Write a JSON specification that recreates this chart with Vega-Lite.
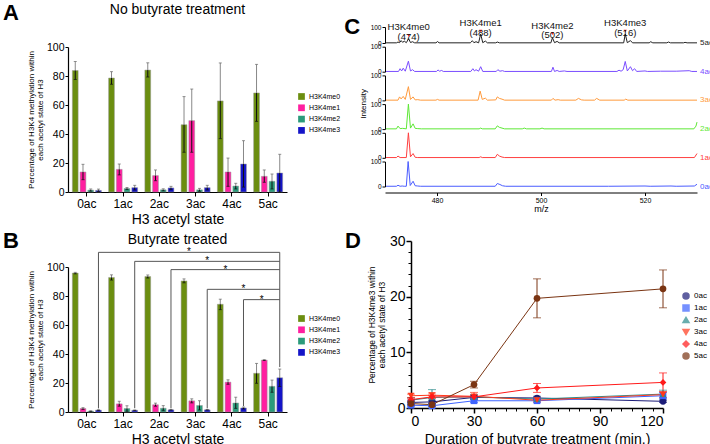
{
  "$schema": "https://vega.github.io/schema/vega-lite/v6.json",
  "background": "white",
  "padding": {"left": 2, "top": 1, "right": 0, "bottom": 0},
  "config": {
    "font": "Liberation Sans",
    "view": {"stroke": null},
    "axis": {"grid": false, "domainColor": "#000", "tickColor": "#000", "labelColor": "#000", "titleColor": "#000", "titleFontWeight": "normal", "labelFont": "Liberation Sans", "titleFont": "Liberation Sans", "labelOverlap": false},
    "legend": {"labelFont": "Liberation Sans", "labelColor": "#000"},
    "title": {"font": "Liberation Sans", "color": "#000"}
  },
  "datasets": {
    "A": [
      {"ac": "0ac", "me": "H3K4me0", "v": 83.8, "lo": 77.6, "hi": 90.0},
      {"ac": "0ac", "me": "H3K4me1", "v": 13.8, "lo": 8.5, "hi": 19.1},
      {"ac": "0ac", "me": "H3K4me2", "v": 1.3, "lo": 0.6, "hi": 2.1},
      {"ac": "0ac", "me": "H3K4me3", "v": 1.1, "lo": 0.3, "hi": 2.0},
      {"ac": "1ac", "me": "H3K4me0", "v": 78.6, "lo": 74.3, "hi": 83.0},
      {"ac": "1ac", "me": "H3K4me1", "v": 15.6, "lo": 11.8, "hi": 19.3},
      {"ac": "1ac", "me": "H3K4me2", "v": 2.4, "lo": 1.8, "hi": 3.1},
      {"ac": "1ac", "me": "H3K4me3", "v": 3.0, "lo": 1.4, "hi": 4.6},
      {"ac": "2ac", "me": "H3K4me0", "v": 84.1, "lo": 79.3, "hi": 89.1},
      {"ac": "2ac", "me": "H3K4me1", "v": 11.3, "lo": 7.8, "hi": 15.2},
      {"ac": "2ac", "me": "H3K4me2", "v": 1.5, "lo": 0.8, "hi": 2.2},
      {"ac": "2ac", "me": "H3K4me3", "v": 2.8, "lo": 1.6, "hi": 3.9},
      {"ac": "3ac", "me": "H3K4me0", "v": 46.4, "lo": 27.4, "hi": 65.8},
      {"ac": "3ac", "me": "H3K4me1", "v": 49.2, "lo": 27.4, "hi": 71.0},
      {"ac": "3ac", "me": "H3K4me2", "v": 1.5, "lo": 0.5, "hi": 2.5},
      {"ac": "3ac", "me": "H3K4me3", "v": 3.0, "lo": 1.4, "hi": 4.6},
      {"ac": "4ac", "me": "H3K4me0", "v": 62.8, "lo": 36.8, "hi": 89.0},
      {"ac": "4ac", "me": "H3K4me1", "v": 13.8, "lo": 3.9, "hi": 23.4},
      {"ac": "4ac", "me": "H3K4me2", "v": 4.1, "lo": 2.1, "hi": 6.0},
      {"ac": "4ac", "me": "H3K4me3", "v": 19.3, "lo": 3.4, "hi": 35.4},
      {"ac": "5ac", "me": "H3K4me0", "v": 68.3, "lo": 48.7, "hi": 88.0},
      {"ac": "5ac", "me": "H3K4me1", "v": 10.8, "lo": 6.7, "hi": 15.2},
      {"ac": "5ac", "me": "H3K4me2", "v": 7.4, "lo": 2.1, "hi": 12.4},
      {"ac": "5ac", "me": "H3K4me3", "v": 13.1, "lo": 0.0, "hi": 26.0}
    ],
    "B": [
      {"ac": "0ac", "me": "H3K4me0", "v": 95.8, "lo": 95.3, "hi": 96.3},
      {"ac": "0ac", "me": "H3K4me1", "v": 2.4, "lo": 1.8, "hi": 3.0},
      {"ac": "0ac", "me": "H3K4me2", "v": 0.6, "lo": 0.4, "hi": 0.8},
      {"ac": "0ac", "me": "H3K4me3", "v": 1.3, "lo": 1.0, "hi": 1.6},
      {"ac": "1ac", "me": "H3K4me0", "v": 92.8, "lo": 91.0, "hi": 94.6},
      {"ac": "1ac", "me": "H3K4me1", "v": 5.6, "lo": 4.0, "hi": 7.4},
      {"ac": "1ac", "me": "H3K4me2", "v": 2.4, "lo": 0.5, "hi": 4.3},
      {"ac": "1ac", "me": "H3K4me3", "v": 1.2, "lo": 1.0, "hi": 1.4},
      {"ac": "2ac", "me": "H3K4me0", "v": 93.4, "lo": 92.4, "hi": 94.5},
      {"ac": "2ac", "me": "H3K4me1", "v": 5.0, "lo": 4.0, "hi": 6.1},
      {"ac": "2ac", "me": "H3K4me2", "v": 2.6, "lo": 0.9, "hi": 4.4},
      {"ac": "2ac", "me": "H3K4me3", "v": 1.5, "lo": 1.3, "hi": 1.7},
      {"ac": "3ac", "me": "H3K4me0", "v": 90.4, "lo": 89.1, "hi": 91.8},
      {"ac": "3ac", "me": "H3K4me1", "v": 7.7, "lo": 6.3, "hi": 9.1},
      {"ac": "3ac", "me": "H3K4me2", "v": 4.5, "lo": 1.4, "hi": 7.8},
      {"ac": "3ac", "me": "H3K4me3", "v": 1.5, "lo": 1.3, "hi": 1.7},
      {"ac": "4ac", "me": "H3K4me0", "v": 74.3, "lo": 70.6, "hi": 77.8},
      {"ac": "4ac", "me": "H3K4me1", "v": 20.6, "lo": 19.1, "hi": 22.2},
      {"ac": "4ac", "me": "H3K4me2", "v": 6.2, "lo": 2.5, "hi": 10.2},
      {"ac": "4ac", "me": "H3K4me3", "v": 2.8, "lo": 2.1, "hi": 3.4},
      {"ac": "5ac", "me": "H3K4me0", "v": 26.7, "lo": 19.8, "hi": 33.5},
      {"ac": "5ac", "me": "H3K4me1", "v": 35.8, "lo": 35.5, "hi": 36.1},
      {"ac": "5ac", "me": "H3K4me2", "v": 17.7, "lo": 13.6, "hi": 22.0},
      {"ac": "5ac", "me": "H3K4me3", "v": 23.6, "lo": 17.6, "hi": 29.6}
    ],
    "Bbr": [
      {"ac": "0ac", "me": "H3K4me3", "yb": 110.1, "y0": 2.5},
      {"ac": "1ac", "me": "H3K4me3", "yb": 103.9, "y0": 2.6},
      {"ac": "2ac", "me": "H3K4me3", "yb": 98.2, "y0": 2.5},
      {"ac": "3ac", "me": "H3K4me3", "yb": 84.6, "y0": 2.5},
      {"ac": "4ac", "me": "H3K4me3", "yb": 77.5, "y0": 4.0},
      {"ac": "5ac", "me": "H3K4me3", "yb": 110.1, "y0": 31.0}
    ],
    "Bst": [
      {"ac": "2ac", "me": "H3K4me3", "y": 110.1, "h": 1},
      {"ac": "3ac", "me": "H3K4me3", "y": 103.9, "h": 0},
      {"ac": "3ac", "me": "H3K4me3", "y": 98.2, "h": 1},
      {"ac": "4ac", "me": "H3K4me3", "y": 84.6, "h": 0},
      {"ac": "4ac", "me": "H3K4me3", "y": 77.5, "h": 1}
    ],
    "D": [
      {"ac": "0ac", "t": 0, "m": 1.0, "lo": 0.6, "hi": 1.4},
      {"ac": "0ac", "t": 10, "m": 1.1, "lo": 0.8, "hi": 1.4},
      {"ac": "0ac", "t": 30, "m": 1.9, "lo": 1.5, "hi": 2.3},
      {"ac": "0ac", "t": 60, "m": 1.8, "lo": 1.5, "hi": 2.1},
      {"ac": "0ac", "t": 120, "m": 1.2, "lo": 1.0, "hi": 1.4},
      {"ac": "1ac", "t": 0, "m": 0.5, "lo": 0.3, "hi": 0.7},
      {"ac": "1ac", "t": 10, "m": 0.4, "lo": 0.2, "hi": 0.6},
      {"ac": "1ac", "t": 30, "m": 1.3, "lo": 1.0, "hi": 1.6},
      {"ac": "1ac", "t": 60, "m": 1.3, "lo": 1.0, "hi": 1.6},
      {"ac": "1ac", "t": 120, "m": 2.2, "lo": 1.6, "hi": 2.8},
      {"ac": "2ac", "t": 0, "m": 1.4, "lo": 1.0, "hi": 1.8},
      {"ac": "2ac", "t": 10, "m": 1.9, "lo": 0.6, "hi": 3.3},
      {"ac": "2ac", "t": 30, "m": 2.0, "lo": 1.6, "hi": 2.4},
      {"ac": "2ac", "t": 60, "m": 1.6, "lo": 1.3, "hi": 1.9},
      {"ac": "2ac", "t": 120, "m": 2.5, "lo": 1.8, "hi": 3.2},
      {"ac": "3ac", "t": 0, "m": 2.2, "lo": 1.9, "hi": 2.5},
      {"ac": "3ac", "t": 10, "m": 2.3, "lo": 1.9, "hi": 2.7},
      {"ac": "3ac", "t": 30, "m": 2.1, "lo": 1.6, "hi": 2.8},
      {"ac": "3ac", "t": 60, "m": 1.4, "lo": 1.1, "hi": 1.7},
      {"ac": "3ac", "t": 120, "m": 2.4, "lo": 1.9, "hi": 2.9},
      {"ac": "4ac", "t": 0, "m": 1.5, "lo": 1.2, "hi": 1.8},
      {"ac": "4ac", "t": 10, "m": 2.0, "lo": 1.7, "hi": 2.3},
      {"ac": "4ac", "t": 30, "m": 2.0, "lo": 1.7, "hi": 2.3},
      {"ac": "4ac", "t": 60, "m": 3.6, "lo": 2.8, "hi": 4.4},
      {"ac": "4ac", "t": 120, "m": 4.6, "lo": 2.9, "hi": 6.3},
      {"ac": "5ac", "t": 0, "m": 0.8, "lo": 0.5, "hi": 1.1},
      {"ac": "5ac", "t": 10, "m": 0.6, "lo": 0.3, "hi": 0.9},
      {"ac": "5ac", "t": 30, "m": 4.2, "lo": 3.6, "hi": 4.8},
      {"ac": "5ac", "t": 60, "m": 19.7, "lo": 16.2, "hi": 23.2},
      {"ac": "5ac", "t": 120, "m": 21.4, "lo": 18.0, "hi": 24.8}
    ],
    "S": [
      {"ac": "5ac", "mz": 470.2, "i": 1}, {"ac": "5ac", "mz": 472.2, "i": 1}, {"ac": "5ac", "mz": 472.5, "i": 6}, {"ac": "5ac", "mz": 472.8, "i": 2}, {"ac": "5ac", "mz": 473.1, "i": 15}, {"ac": "5ac", "mz": 473.4, "i": 4}, {"ac": "5ac", "mz": 473.7, "i": 12}, {"ac": "5ac", "mz": 474.1, "i": 2}, {"ac": "5ac", "mz": 474.55, "i": 27}, {"ac": "5ac", "mz": 474.9, "i": 3}, {"ac": "5ac", "mz": 475.3, "i": 8}, {"ac": "5ac", "mz": 475.7, "i": 1}, {"ac": "5ac", "mz": 479.8, "i": 1}, {"ac": "5ac", "mz": 480.1, "i": 9}, {"ac": "5ac", "mz": 480.4, "i": 1}, {"ac": "5ac", "mz": 486.4, "i": 1}, {"ac": "5ac", "mz": 486.8, "i": 14}, {"ac": "5ac", "mz": 487.1, "i": 2}, {"ac": "5ac", "mz": 487.5, "i": 8}, {"ac": "5ac", "mz": 488.0, "i": 1}, {"ac": "5ac", "mz": 488.4, "i": 56}, {"ac": "5ac", "mz": 488.8, "i": 2}, {"ac": "5ac", "mz": 489.3, "i": 12}, {"ac": "5ac", "mz": 489.7, "i": 1}, {"ac": "5ac", "mz": 491.3, "i": 1}, {"ac": "5ac", "mz": 491.6, "i": 6}, {"ac": "5ac", "mz": 492.0, "i": 1}, {"ac": "5ac", "mz": 501.9, "i": 1}, {"ac": "5ac", "mz": 502.2, "i": 33}, {"ac": "5ac", "mz": 502.6, "i": 2}, {"ac": "5ac", "mz": 503.1, "i": 10}, {"ac": "5ac", "mz": 503.5, "i": 1}, {"ac": "5ac", "mz": 515.9, "i": 1}, {"ac": "5ac", "mz": 516.2, "i": 56}, {"ac": "5ac", "mz": 516.6, "i": 2}, {"ac": "5ac", "mz": 517.2, "i": 15}, {"ac": "5ac", "mz": 517.6, "i": 1}, {"ac": "5ac", "mz": 520.8, "i": 1}, {"ac": "5ac", "mz": 521.1, "i": 8}, {"ac": "5ac", "mz": 521.5, "i": 1}, {"ac": "5ac", "mz": 524.2, "i": 1}, {"ac": "5ac", "mz": 524.5, "i": 6}, {"ac": "5ac", "mz": 524.9, "i": 1}, {"ac": "5ac", "mz": 527.4, "i": 1}, {"ac": "5ac", "mz": 527.7, "i": 4}, {"ac": "5ac", "mz": 528.1, "i": 1}, {"ac": "5ac", "mz": 530, "i": 1},
      {"ac": "4ac", "mz": 470.2, "i": 1}, {"ac": "4ac", "mz": 472.6, "i": 1}, {"ac": "4ac", "mz": 472.9, "i": 12}, {"ac": "4ac", "mz": 473.2, "i": 3}, {"ac": "4ac", "mz": 473.5, "i": 14}, {"ac": "4ac", "mz": 473.9, "i": 2}, {"ac": "4ac", "mz": 474.5, "i": 42}, {"ac": "4ac", "mz": 474.9, "i": 3}, {"ac": "4ac", "mz": 475.3, "i": 8}, {"ac": "4ac", "mz": 475.7, "i": 1}, {"ac": "4ac", "mz": 479.9, "i": 1}, {"ac": "4ac", "mz": 480.2, "i": 7}, {"ac": "4ac", "mz": 480.5, "i": 2}, {"ac": "4ac", "mz": 480.9, "i": 5}, {"ac": "4ac", "mz": 481.2, "i": 1}, {"ac": "4ac", "mz": 486.5, "i": 1}, {"ac": "4ac", "mz": 486.9, "i": 12}, {"ac": "4ac", "mz": 487.2, "i": 3}, {"ac": "4ac", "mz": 487.5, "i": 8}, {"ac": "4ac", "mz": 488.0, "i": 2}, {"ac": "4ac", "mz": 488.4, "i": 20}, {"ac": "4ac", "mz": 488.8, "i": 1}, {"ac": "4ac", "mz": 491.4, "i": 1}, {"ac": "4ac", "mz": 491.7, "i": 8}, {"ac": "4ac", "mz": 492.1, "i": 2}, {"ac": "4ac", "mz": 492.6, "i": 4}, {"ac": "4ac", "mz": 493.0, "i": 1}, {"ac": "4ac", "mz": 502.0, "i": 1}, {"ac": "4ac", "mz": 502.3, "i": 18}, {"ac": "4ac", "mz": 502.6, "i": 1}, {"ac": "4ac", "mz": 503.1, "i": 5}, {"ac": "4ac", "mz": 503.5, "i": 1}, {"ac": "4ac", "mz": 504.5, "i": 3}, {"ac": "4ac", "mz": 505.0, "i": 1}, {"ac": "4ac", "mz": 514.6, "i": 1}, {"ac": "4ac", "mz": 515.0, "i": 6}, {"ac": "4ac", "mz": 515.4, "i": 2}, {"ac": "4ac", "mz": 515.8, "i": 8}, {"ac": "4ac", "mz": 516.2, "i": 41}, {"ac": "4ac", "mz": 516.6, "i": 3}, {"ac": "4ac", "mz": 517.2, "i": 20}, {"ac": "4ac", "mz": 517.6, "i": 4}, {"ac": "4ac", "mz": 518.0, "i": 12}, {"ac": "4ac", "mz": 518.4, "i": 1}, {"ac": "4ac", "mz": 520.0, "i": 3}, {"ac": "4ac", "mz": 520.5, "i": 1}, {"ac": "4ac", "mz": 523.0, "i": 2}, {"ac": "4ac", "mz": 526.0, "i": 2}, {"ac": "4ac", "mz": 528.5, "i": 4}, {"ac": "4ac", "mz": 529.0, "i": 1}, {"ac": "4ac", "mz": 530, "i": 1},
      {"ac": "3ac", "mz": 470.2, "i": 1}, {"ac": "3ac", "mz": 472.5, "i": 1}, {"ac": "3ac", "mz": 472.8, "i": 14}, {"ac": "3ac", "mz": 473.1, "i": 6}, {"ac": "3ac", "mz": 473.5, "i": 16}, {"ac": "3ac", "mz": 473.9, "i": 4}, {"ac": "3ac", "mz": 474.5, "i": 55}, {"ac": "3ac", "mz": 474.9, "i": 4}, {"ac": "3ac", "mz": 475.4, "i": 14}, {"ac": "3ac", "mz": 475.8, "i": 2}, {"ac": "3ac", "mz": 476.3, "i": 3}, {"ac": "3ac", "mz": 476.8, "i": 1}, {"ac": "3ac", "mz": 479.8, "i": 1}, {"ac": "3ac", "mz": 480.1, "i": 4}, {"ac": "3ac", "mz": 480.4, "i": 1}, {"ac": "3ac", "mz": 487.9, "i": 1}, {"ac": "3ac", "mz": 488.3, "i": 37}, {"ac": "3ac", "mz": 488.7, "i": 4}, {"ac": "3ac", "mz": 489.3, "i": 9}, {"ac": "3ac", "mz": 489.7, "i": 1}, {"ac": "3ac", "mz": 491.3, "i": 2}, {"ac": "3ac", "mz": 491.6, "i": 14}, {"ac": "3ac", "mz": 492.0, "i": 8}, {"ac": "3ac", "mz": 492.5, "i": 5}, {"ac": "3ac", "mz": 493.0, "i": 1}, {"ac": "3ac", "mz": 502.0, "i": 1}, {"ac": "3ac", "mz": 502.3, "i": 8}, {"ac": "3ac", "mz": 502.7, "i": 1}, {"ac": "3ac", "mz": 503.3, "i": 3}, {"ac": "3ac", "mz": 503.7, "i": 1}, {"ac": "3ac", "mz": 506.7, "i": 1}, {"ac": "3ac", "mz": 507.2, "i": 8}, {"ac": "3ac", "mz": 507.8, "i": 2}, {"ac": "3ac", "mz": 508.3, "i": 1}, {"ac": "3ac", "mz": 510.3, "i": 1}, {"ac": "3ac", "mz": 510.7, "i": 8}, {"ac": "3ac", "mz": 511.3, "i": 1}, {"ac": "3ac", "mz": 516.0, "i": 1}, {"ac": "3ac", "mz": 516.3, "i": 5}, {"ac": "3ac", "mz": 516.7, "i": 1}, {"ac": "3ac", "mz": 530, "i": 1},
      {"ac": "2ac", "mz": 470.2, "i": 1}, {"ac": "2ac", "mz": 472.2, "i": 1}, {"ac": "2ac", "mz": 472.5, "i": 12}, {"ac": "2ac", "mz": 472.9, "i": 2}, {"ac": "2ac", "mz": 473.4, "i": 3}, {"ac": "2ac", "mz": 474.1, "i": 1}, {"ac": "2ac", "mz": 474.5, "i": 100}, {"ac": "2ac", "mz": 474.9, "i": 4}, {"ac": "2ac", "mz": 475.4, "i": 21}, {"ac": "2ac", "mz": 475.8, "i": 3}, {"ac": "2ac", "mz": 476.3, "i": 2}, {"ac": "2ac", "mz": 477.0, "i": 1}, {"ac": "2ac", "mz": 488.1, "i": 1}, {"ac": "2ac", "mz": 488.4, "i": 4}, {"ac": "2ac", "mz": 488.7, "i": 1}, {"ac": "2ac", "mz": 491.2, "i": 1}, {"ac": "2ac", "mz": 491.6, "i": 13}, {"ac": "2ac", "mz": 492.0, "i": 7}, {"ac": "2ac", "mz": 492.5, "i": 4}, {"ac": "2ac", "mz": 493.0, "i": 1}, {"ac": "2ac", "mz": 496.4, "i": 1}, {"ac": "2ac", "mz": 496.8, "i": 4}, {"ac": "2ac", "mz": 497.2, "i": 1}, {"ac": "2ac", "mz": 499.8, "i": 1}, {"ac": "2ac", "mz": 500.2, "i": 4}, {"ac": "2ac", "mz": 500.6, "i": 1}, {"ac": "2ac", "mz": 529.4, "i": 1}, {"ac": "2ac", "mz": 529.8, "i": 12}, {"ac": "2ac", "mz": 530, "i": 28},
      {"ac": "1ac", "mz": 470.2, "i": 1}, {"ac": "1ac", "mz": 472.2, "i": 1}, {"ac": "1ac", "mz": 472.5, "i": 7}, {"ac": "1ac", "mz": 472.9, "i": 1}, {"ac": "1ac", "mz": 474.1, "i": 1}, {"ac": "1ac", "mz": 474.5, "i": 100}, {"ac": "1ac", "mz": 474.9, "i": 4}, {"ac": "1ac", "mz": 475.4, "i": 17}, {"ac": "1ac", "mz": 475.8, "i": 2}, {"ac": "1ac", "mz": 476.3, "i": 1}, {"ac": "1ac", "mz": 488.1, "i": 1}, {"ac": "1ac", "mz": 488.4, "i": 4}, {"ac": "1ac", "mz": 488.7, "i": 1}, {"ac": "1ac", "mz": 491.2, "i": 1}, {"ac": "1ac", "mz": 491.6, "i": 14}, {"ac": "1ac", "mz": 492.0, "i": 7}, {"ac": "1ac", "mz": 492.5, "i": 3}, {"ac": "1ac", "mz": 493.0, "i": 1}, {"ac": "1ac", "mz": 529.5, "i": 1}, {"ac": "1ac", "mz": 530, "i": 17},
      {"ac": "0ac", "mz": 470.2, "i": 1}, {"ac": "0ac", "mz": 472.2, "i": 1}, {"ac": "0ac", "mz": 472.5, "i": 5}, {"ac": "0ac", "mz": 472.9, "i": 1}, {"ac": "0ac", "mz": 473.3, "i": 2}, {"ac": "0ac", "mz": 473.7, "i": 1}, {"ac": "0ac", "mz": 474.1, "i": 1}, {"ac": "0ac", "mz": 474.45, "i": 100}, {"ac": "0ac", "mz": 474.85, "i": 4}, {"ac": "0ac", "mz": 475.4, "i": 21}, {"ac": "0ac", "mz": 475.8, "i": 3}, {"ac": "0ac", "mz": 476.3, "i": 2}, {"ac": "0ac", "mz": 476.8, "i": 1}, {"ac": "0ac", "mz": 491.2, "i": 1}, {"ac": "0ac", "mz": 491.6, "i": 12}, {"ac": "0ac", "mz": 492.1, "i": 8}, {"ac": "0ac", "mz": 492.6, "i": 3}, {"ac": "0ac", "mz": 493.2, "i": 1}, {"ac": "0ac", "mz": 513.0, "i": 1}, {"ac": "0ac", "mz": 520.0, "i": 2}, {"ac": "0ac", "mz": 521.0, "i": 1}, {"ac": "0ac", "mz": 525.0, "i": 2}, {"ac": "0ac", "mz": 526.0, "i": 1}, {"ac": "0ac", "mz": 529.5, "i": 2}, {"ac": "0ac", "mz": 530, "i": 9}
    ],
    "SL": [
      {"ac": "5ac", "mz": 530, "i": 0}, {"ac": "4ac", "mz": 530, "i": 0}, {"ac": "3ac", "mz": 530, "i": 0},
      {"ac": "2ac", "mz": 530, "i": 0}, {"ac": "1ac", "mz": 530, "i": 0}, {"ac": "0ac", "mz": 530, "i": 0}
    ],
    "ANN": [
      {"mz": 474.55, "i": 48, "t": "H3K4me0\n(474)"},
      {"mz": 488.4, "i": 75, "t": "H3K4me1\n(488)"},
      {"mz": 502.2, "i": 58, "t": "H3K4me2\n(502)"},
      {"mz": 516.2, "i": 75, "t": "H3K4me3\n(516)"}
    ]
  },
  "columns": 2,
  "align": "none",
  "spacing": {"row": 4, "column": 3},
  "resolve": {"scale": {"color": "independent", "shape": "independent"}},
  "concat": [
    {
      "title": {"text": "A", "anchor": "start", "frame": "bounds", "fontSize": 22, "fontWeight": "bold", "offset": -22, "dx": -25},
      "spacing": 11,
      "vconcat": [
        {"width": 219, "height": 1, "title": {"text": "No butyrate treatment", "fontSize": 14, "fontWeight": "normal", "offset": 8}, "data": {"values": [{"k": 0}]}, "mark": {"type": "point", "opacity": 0}, "encoding": {}},
        {
          "width": 219, "height": 145,
          "data": {"name": "A"},
          "resolve": {"axis": {"y": "independent"}},
          "encoding": {
            "x": {"field": "ac", "type": "nominal", "scale": {"paddingInner": 0.2, "paddingOuter": 0.12}, "axis": {"title": "H3 acetyl state", "titleFontSize": 14, "labelFontSize": 12, "labelAngle": 0, "tickSize": 4, "labelPadding": 2, "titlePadding": 3, "domainWidth": 1.2}},
            "xOffset": {"field": "me", "type": "nominal", "scale": {"paddingInner": 0.25}}
          },
          "layer": [
            {"mark": {"type": "bar", "stroke": "#999", "strokeWidth": 0.5},
             "encoding": {
               "y": {"field": "v", "type": "quantitative", "scale": {"domain": [0, 100], "nice": false}, "axis": {"orient": "left", "values": [0, 20, 40, 60, 80, 100], "title": ["Percentage of H3K4 methylation within", "each acetyl state of H3"], "titleFontSize": 8, "titleLineHeight": 8.5, "titlePadding": 2, "labelFontSize": 10.5, "labelOverlap": false, "labelBound": false, "labelFlush": false, "labelSeparation": 0, "tickSize": 3, "labelPadding": 1, "domainWidth": 1.2}},
               "color": {"field": "me", "type": "nominal", "scale": {"domain": ["H3K4me0", "H3K4me1", "H3K4me2", "H3K4me3"], "range": ["#6b8e10", "#ff1fa0", "#2a9b7b", "#1414c8"]}, "legend": {"title": null, "orient": "none", "legendX": 230, "legendY": 66, "symbolType": "square", "symbolSize": 45, "labelFontSize": 7, "rowPadding": 3.3, "symbolStrokeWidth": 0, "padding": 0}}
             }},
            {"mark": {"type": "rule", "color": "#888", "strokeWidth": 1}, "encoding": {"y": {"field": "v", "type": "quantitative", "axis": null}, "y2": {"field": "hi"}}},
            {"mark": {"type": "rule", "color": "#111", "strokeWidth": 1}, "encoding": {"y": {"field": "lo", "type": "quantitative", "axis": null}, "y2": {"field": "v"}}},
            {"mark": {"type": "tick", "orient": "horizontal", "size": 3, "thickness": 1, "color": "#666"}, "encoding": {"y": {"field": "hi", "type": "quantitative", "axis": null}}},
            {"mark": {"type": "tick", "orient": "horizontal", "size": 3, "thickness": 1, "color": "#111"}, "encoding": {"y": {"field": "lo", "type": "quantitative", "axis": null}}}
          ]
        }
      ]
    },
    {
      "title": {"text": "C", "anchor": "start", "frame": "bounds", "fontSize": 22, "fontWeight": "bold", "offset": -21, "dx": -15},
      "spacing": 3.7,
      "bounds": "flush",
      "vconcat": [
        {
          "width": 312, "height": 16,
          "layer": [
            {"data": {"name": "S"}, "transform": [{"filter": "datum.ac == '5ac'"}], "mark": {"type": "line", "color": "#222", "strokeWidth": 1},
             "encoding": {"x": {"field": "mz", "type": "quantitative", "scale": {"domain": [470, 530], "nice": false, "zero": false}, "axis": null},
                          "y": {"field": "i", "type": "quantitative", "scale": {"domain": [0, 100], "nice": false}, "axis": {"values": [0, 100], "title": null, "labelFontSize": 6.5, "tickSize": 3, "labelPadding": 1, "domainWidth": 1}}}},
            {"data": {"name": "SL"}, "transform": [{"filter": "datum.ac == '5ac'"}], "mark": {"type": "text", "align": "left", "baseline": "middle", "dx": 3, "fontSize": 8, "color": "#222"},
             "encoding": {"x": {"field": "mz", "type": "quantitative"}, "y": {"field": "i", "type": "quantitative"}, "text": {"field": "ac"}}},
            {"data": {"name": "ANN"}, "mark": {"type": "point", "shape": "triangle-down", "filled": true, "size": 10, "color": "#ff2020", "opacity": 1},
             "encoding": {"x": {"field": "mz", "type": "quantitative"}, "y": {"field": "i", "type": "quantitative"}}},
            {"data": {"name": "ANN"}, "mark": {"type": "text", "baseline": "bottom", "dy": -3, "fontSize": 9.5, "lineBreak": "\n", "lineHeight": 9.5, "color": "#111"},
             "encoding": {"x": {"field": "mz", "type": "quantitative"}, "y": {"field": "i", "type": "quantitative"}, "text": {"field": "t"}}}
          ]
        },
        {
          "width": 312, "height": 25,
          "layer": [
            {"data": {"name": "S"}, "transform": [{"filter": "datum.ac == '4ac'"}], "mark": {"type": "line", "color": "#7a4dff", "strokeWidth": 1},
             "encoding": {"x": {"field": "mz", "type": "quantitative", "scale": {"domain": [470, 530], "nice": false, "zero": false}, "axis": null},
                          "y": {"field": "i", "type": "quantitative", "scale": {"domain": [0, 100], "nice": false}, "axis": {"values": [0, 100], "title": null, "labelFontSize": 6.5, "tickSize": 3, "labelPadding": 1, "domainWidth": 1}}}},
            {"data": {"name": "SL"}, "transform": [{"filter": "datum.ac == '4ac'"}], "mark": {"type": "text", "align": "left", "baseline": "middle", "dx": 3, "fontSize": 8, "color": "#7a4dff"},
             "encoding": {"x": {"field": "mz", "type": "quantitative"}, "y": {"field": "i", "type": "quantitative"}, "text": {"field": "ac"}}}
          ]
        },
        {
          "width": 312, "height": 25,
          "layer": [
            {"data": {"name": "S"}, "transform": [{"filter": "datum.ac == '3ac'"}], "mark": {"type": "line", "color": "#ff9a3c", "strokeWidth": 1},
             "encoding": {"x": {"field": "mz", "type": "quantitative", "scale": {"domain": [470, 530], "nice": false, "zero": false}, "axis": null},
                          "y": {"field": "i", "type": "quantitative", "scale": {"domain": [0, 100], "nice": false}, "axis": {"values": [0, 100], "title": "Intensity", "titleFontSize": 8, "titleY": 28, "titlePadding": 3, "labelFontSize": 6.5, "tickSize": 3, "labelPadding": 1, "domainWidth": 1}}}},
            {"data": {"name": "SL"}, "transform": [{"filter": "datum.ac == '3ac'"}], "mark": {"type": "text", "align": "left", "baseline": "middle", "dx": 3, "fontSize": 8, "color": "#ff9a3c"},
             "encoding": {"x": {"field": "mz", "type": "quantitative"}, "y": {"field": "i", "type": "quantitative"}, "text": {"field": "ac"}}}
          ]
        },
        {
          "width": 312, "height": 25,
          "layer": [
            {"data": {"name": "S"}, "transform": [{"filter": "datum.ac == '2ac'"}], "mark": {"type": "line", "color": "#5ee836", "strokeWidth": 1},
             "encoding": {"x": {"field": "mz", "type": "quantitative", "scale": {"domain": [470, 530], "nice": false, "zero": false}, "axis": null},
                          "y": {"field": "i", "type": "quantitative", "scale": {"domain": [0, 100], "nice": false}, "axis": {"values": [0, 100], "title": null, "labelFontSize": 6.5, "tickSize": 3, "labelPadding": 1, "domainWidth": 1}}}},
            {"data": {"name": "SL"}, "transform": [{"filter": "datum.ac == '2ac'"}], "mark": {"type": "text", "align": "left", "baseline": "middle", "dx": 3, "fontSize": 8, "color": "#5ee836"},
             "encoding": {"x": {"field": "mz", "type": "quantitative"}, "y": {"field": "i", "type": "quantitative"}, "text": {"field": "ac"}}}
          ]
        },
        {
          "width": 312, "height": 25,
          "layer": [
            {"data": {"name": "S"}, "transform": [{"filter": "datum.ac == '1ac'"}], "mark": {"type": "line", "color": "#ff4040", "strokeWidth": 1},
             "encoding": {"x": {"field": "mz", "type": "quantitative", "scale": {"domain": [470, 530], "nice": false, "zero": false}, "axis": null},
                          "y": {"field": "i", "type": "quantitative", "scale": {"domain": [0, 100], "nice": false}, "axis": {"values": [0, 100], "title": null, "labelFontSize": 6.5, "tickSize": 3, "labelPadding": 1, "domainWidth": 1}}}},
            {"data": {"name": "SL"}, "transform": [{"filter": "datum.ac == '1ac'"}], "mark": {"type": "text", "align": "left", "baseline": "middle", "dx": 3, "fontSize": 8, "color": "#ff4040"},
             "encoding": {"x": {"field": "mz", "type": "quantitative"}, "y": {"field": "i", "type": "quantitative"}, "text": {"field": "ac"}}}
          ]
        },
        {
          "width": 312, "height": 25,
          "layer": [
            {"data": {"name": "S"}, "transform": [{"filter": "datum.ac == '0ac'"}], "mark": {"type": "line", "color": "#4a5cff", "strokeWidth": 1},
             "encoding": {"x": {"field": "mz", "type": "quantitative", "scale": {"domain": [470, 530], "nice": false, "zero": false}, "axis": {"values": [480, 500, 520], "title": "m/z", "titleFontSize": 9, "titlePadding": 1, "labelFontSize": 7, "tickSize": 3, "labelPadding": 1, "offset": 6, "domainWidth": 1}},
                          "y": {"field": "i", "type": "quantitative", "scale": {"domain": [0, 100], "nice": false}, "axis": {"values": [0, 100], "title": null, "labelFontSize": 6.5, "tickSize": 3, "labelPadding": 1, "domainWidth": 1}}}},
            {"data": {"name": "SL"}, "transform": [{"filter": "datum.ac == '0ac'"}], "mark": {"type": "text", "align": "left", "baseline": "middle", "dx": 3, "fontSize": 8, "color": "#4a5cff"},
             "encoding": {"x": {"field": "mz", "type": "quantitative"}, "y": {"field": "i", "type": "quantitative"}, "text": {"field": "ac"}}}
          ]
        }
      ]
    },
    {
      "title": {"text": "B", "anchor": "start", "frame": "bounds", "fontSize": 22, "fontWeight": "bold", "offset": -20, "dx": -25},
      "vconcat": [
        {
          "width": 219, "height": 145,
          "title": {"text": "Butyrate treated", "fontSize": 14, "fontWeight": "normal", "offset": 0},
          "data": {"name": "B"},
          "resolve": {"axis": {"y": "independent"}},
          "encoding": {
            "x": {"field": "ac", "type": "nominal", "scale": {"paddingInner": 0.2, "paddingOuter": 0.12}, "axis": {"title": "H3 acetyl state", "titleFontSize": 14, "labelFontSize": 12, "labelAngle": 0, "tickSize": 4, "labelPadding": 2, "titlePadding": 3, "domainWidth": 1.2}},
            "xOffset": {"field": "me", "type": "nominal", "scale": {"paddingInner": 0.25}}
          },
          "layer": [
            {"mark": {"type": "bar", "stroke": "#999", "strokeWidth": 0.5},
             "encoding": {
               "y": {"field": "v", "type": "quantitative", "scale": {"domain": [0, 100], "nice": false}, "axis": {"orient": "left", "values": [0, 20, 40, 60, 80, 100], "title": ["Percentage of H3K4 methylation within", "each acetyl state of H3"], "titleFontSize": 8, "titleLineHeight": 8.5, "titlePadding": 2, "labelFontSize": 10.5, "labelOverlap": false, "labelBound": false, "labelFlush": false, "labelSeparation": 0, "tickSize": 3, "labelPadding": 1, "domainWidth": 1.2}},
               "color": {"field": "me", "type": "nominal", "scale": {"domain": ["H3K4me0", "H3K4me1", "H3K4me2", "H3K4me3"], "range": ["#6b8e10", "#ff1fa0", "#2a9b7b", "#1414c8"]}, "legend": {"title": null, "orient": "none", "legendX": 230, "legendY": 48, "symbolType": "square", "symbolSize": 45, "labelFontSize": 7, "rowPadding": 3.3, "symbolStrokeWidth": 0, "padding": 0}}
             }},
            {"mark": {"type": "rule", "color": "#888", "strokeWidth": 1}, "encoding": {"y": {"field": "v", "type": "quantitative", "axis": null}, "y2": {"field": "hi"}}},
            {"mark": {"type": "rule", "color": "#111", "strokeWidth": 1}, "encoding": {"y": {"field": "lo", "type": "quantitative", "axis": null}, "y2": {"field": "v"}}},
            {"mark": {"type": "tick", "orient": "horizontal", "size": 3, "thickness": 1, "color": "#666"}, "encoding": {"y": {"field": "hi", "type": "quantitative", "axis": null}}},
            {"mark": {"type": "tick", "orient": "horizontal", "size": 3, "thickness": 1, "color": "#111"}, "encoding": {"y": {"field": "lo", "type": "quantitative", "axis": null}}},
            {"data": {"name": "Bbr"}, "transform": [{"filter": "datum.ac != '5ac'"}], "mark": {"type": "rule", "color": "#555", "strokeWidth": 1, "x2Offset": 11.6}, "encoding": {"x2": {"datum": "5ac"}, "y": {"field": "yb", "type": "quantitative", "axis": null}}},
            {"data": {"name": "Bbr"}, "mark": {"type": "rule", "color": "#555", "strokeWidth": 1}, "encoding": {"y": {"field": "y0", "type": "quantitative", "axis": null}, "y2": {"field": "yb"}}},
            {"data": {"name": "Bst"}, "transform": [{"filter": "datum.h == 1"}], "mark": {"type": "text", "text": "*", "fontSize": 10, "baseline": "middle", "dx": 18.1}, "encoding": {"y": {"field": "y", "type": "quantitative", "axis": null}}},
            {"data": {"name": "Bst"}, "transform": [{"filter": "datum.h == 0"}], "mark": {"type": "text", "text": "*", "fontSize": 10, "baseline": "middle"}, "encoding": {"y": {"field": "y", "type": "quantitative", "axis": null}}}
          ]
        }
      ]
    },
    {
      "title": {"text": "D", "anchor": "start", "frame": "bounds", "fontSize": 22, "fontWeight": "bold", "offset": -19, "dx": -23},
      "vconcat": [
        {
          "width": 252, "height": 167,
          "data": {"name": "D"},
          "resolve": {"axis": {"x": "independent", "y": "independent"}},
          "encoding": {
            "color": {"field": "ac", "type": "nominal", "scale": {"domain": ["0ac", "1ac", "2ac", "3ac", "4ac", "5ac"], "range": ["#1c1c78", "#3d63ff", "#2b8c8c", "#ff3a1c", "#ff1a1a", "#7a3412"]}, "legend": {"title": null, "orient": "none", "legendX": 271, "legendY": 51, "labelFontSize": 8, "symbolSize": 36, "rowPadding": 0, "padding": 0}}
          },
          "layer": [
            {"mark": {"type": "line", "strokeWidth": 1},
             "encoding": {
               "x": {"field": "t", "type": "quantitative", "scale": {"domain": [0, 120], "nice": false}, "axis": {"orient": "bottom", "values": [0, 30, 60, 90, 120], "title": "Duration of butyrate treatment (min.)", "titleFontSize": 14, "labelFontSize": 14, "tickSize": 5, "tickWidth": 1.5, "domainWidth": 1.5, "labelPadding": 1, "titlePadding": 4}},
               "y": {"field": "m", "type": "quantitative", "scale": {"domain": [0, 30], "nice": false}, "axis": {"orient": "left", "values": [0, 10, 20, 30], "title": ["Percentage of H3K4me3 within", "each acetyl state of H3"], "titleFontSize": 8.5, "titleLineHeight": 9.5, "titlePadding": 3, "labelFontSize": 14, "tickSize": 5, "tickWidth": 1.5, "domainWidth": 1.5, "labelPadding": 1}}
             }},
            {"mark": {"type": "rule", "strokeWidth": 1},
             "encoding": {"x": {"field": "t", "type": "quantitative", "axis": null}, "y": {"field": "lo", "type": "quantitative", "axis": null}, "y2": {"field": "hi"}}},
            {"mark": {"type": "tick", "orient": "horizontal", "size": 8, "thickness": 1},
             "encoding": {"x": {"field": "t", "type": "quantitative", "axis": null}, "y": {"field": "lo", "type": "quantitative", "axis": null}}},
            {"mark": {"type": "tick", "orient": "horizontal", "size": 8, "thickness": 1},
             "encoding": {"x": {"field": "t", "type": "quantitative", "axis": null}, "y": {"field": "hi", "type": "quantitative", "axis": null}}},
            {"mark": {"type": "point", "filled": true, "size": 45, "opacity": 1},
             "encoding": {
               "x": {"field": "t", "type": "quantitative", "axis": null},
               "y": {"field": "m", "type": "quantitative", "axis": null},
               "shape": {"field": "ac", "type": "nominal", "scale": {"domain": ["0ac", "1ac", "2ac", "3ac", "4ac", "5ac"], "range": ["circle", "square", "triangle-up", "triangle-down", "diamond", "circle"]}, "legend": {"title": null, "orient": "none", "legendX": 271, "legendY": 51, "labelFontSize": 8, "symbolSize": 36, "rowPadding": 0, "padding": 0}}
             }},
            {"mark": {"type": "point", "opacity": 0},
             "encoding": {
               "color": {"value": "#000"},
               "x": {"field": "t", "type": "quantitative", "axis": {"orient": "bottom", "values": [5, 10, 15, 20, 25, 35, 40, 45, 50, 55, 65, 70, 75, 80, 85, 95, 100, 105, 110, 115], "labels": false, "title": null, "domain": false, "tickSize": 3, "tickWidth": 1}},
               "y": {"field": "m", "type": "quantitative", "axis": {"orient": "left", "values": [2, 4, 6, 8, 12, 14, 16, 18, 22, 24, 26, 28], "labels": false, "title": null, "domain": false, "tickSize": 3, "tickWidth": 1}}
             }}
          ]
        }
      ]
    }
  ]
}
